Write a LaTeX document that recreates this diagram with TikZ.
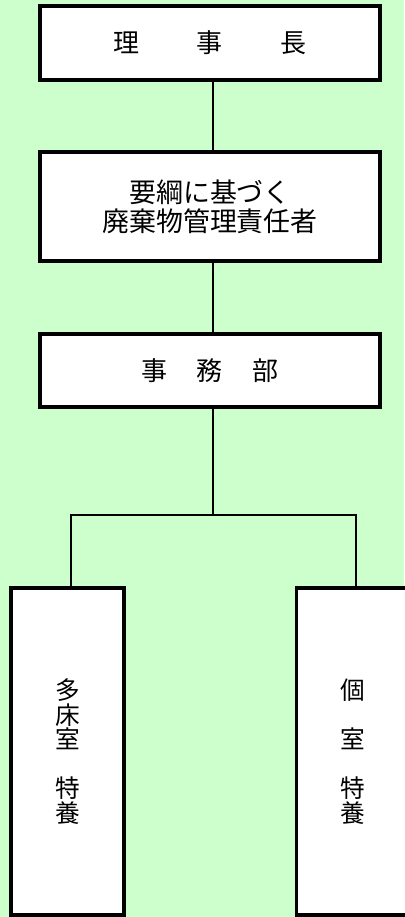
\documentclass[tikz,border=0pt]{standalone}
\usepackage{fontspec}
\newfontfamily\cjk{Noto Sans CJK JP}
\definecolor{bg}{RGB}{204,255,204}
\begin{document}
\begin{tikzpicture}[x=0.75pt,y=-0.75pt,
  box/.style={draw=black, line width=2.3pt, fill=white, rectangle, inner sep=0pt, font=\cjk\fontsize{19.5pt}{21.75pt}\selectfont, align=center},
  vbox/.style={box, font=\cjk\fontsize{18.5pt}{18.4pt}\selectfont},
  conn/.style={draw=black, line width=1.7pt}]
\path[use as bounding box, fill=bg] (0,0) rectangle (404,917);
\node[box, minimum width=255pt, minimum height=55.5pt] (top) at (210,43) {理\hspace{43pt}事\hspace{43pt}長};
\node[box, minimum width=255pt, minimum height=81.75pt, font=\cjk\fontsize{20.2pt}{21.75pt}\selectfont] (mid) at (210,206.5) {要綱に基づく\\廃棄物管理責任者};
\node[box, minimum width=255pt, minimum height=54.75pt] (jimu) at (210,370.5) {事\hspace{22.5pt}務\hspace{22.5pt}部};
\node[vbox, minimum width=84.75pt, minimum height=245.25pt] (left) at (67.5,751.5) {多\\床\\室\\\mbox{}\\特\\養};
\node[vbox, minimum width=84.75pt, minimum height=245.25pt] (right) at (353,751.5) {個\\\mbox{}\\室\\\mbox{}\\特\\養};
\coordinate (hx) at (213,0);
\coordinate (jl) at (71,515);
\coordinate (jr) at (356,515);
\draw[conn] (top.south -| hx) -- (mid.north -| hx);
\draw[conn] (mid.south -| hx) -- (jimu.north -| hx);
\draw[conn] (jimu.south -| hx) -- (hx |- jl);
\draw[conn] (left.north -| jl) -- (jl) -- (jr) -- (right.north -| jr);
\end{tikzpicture}
\end{document}
